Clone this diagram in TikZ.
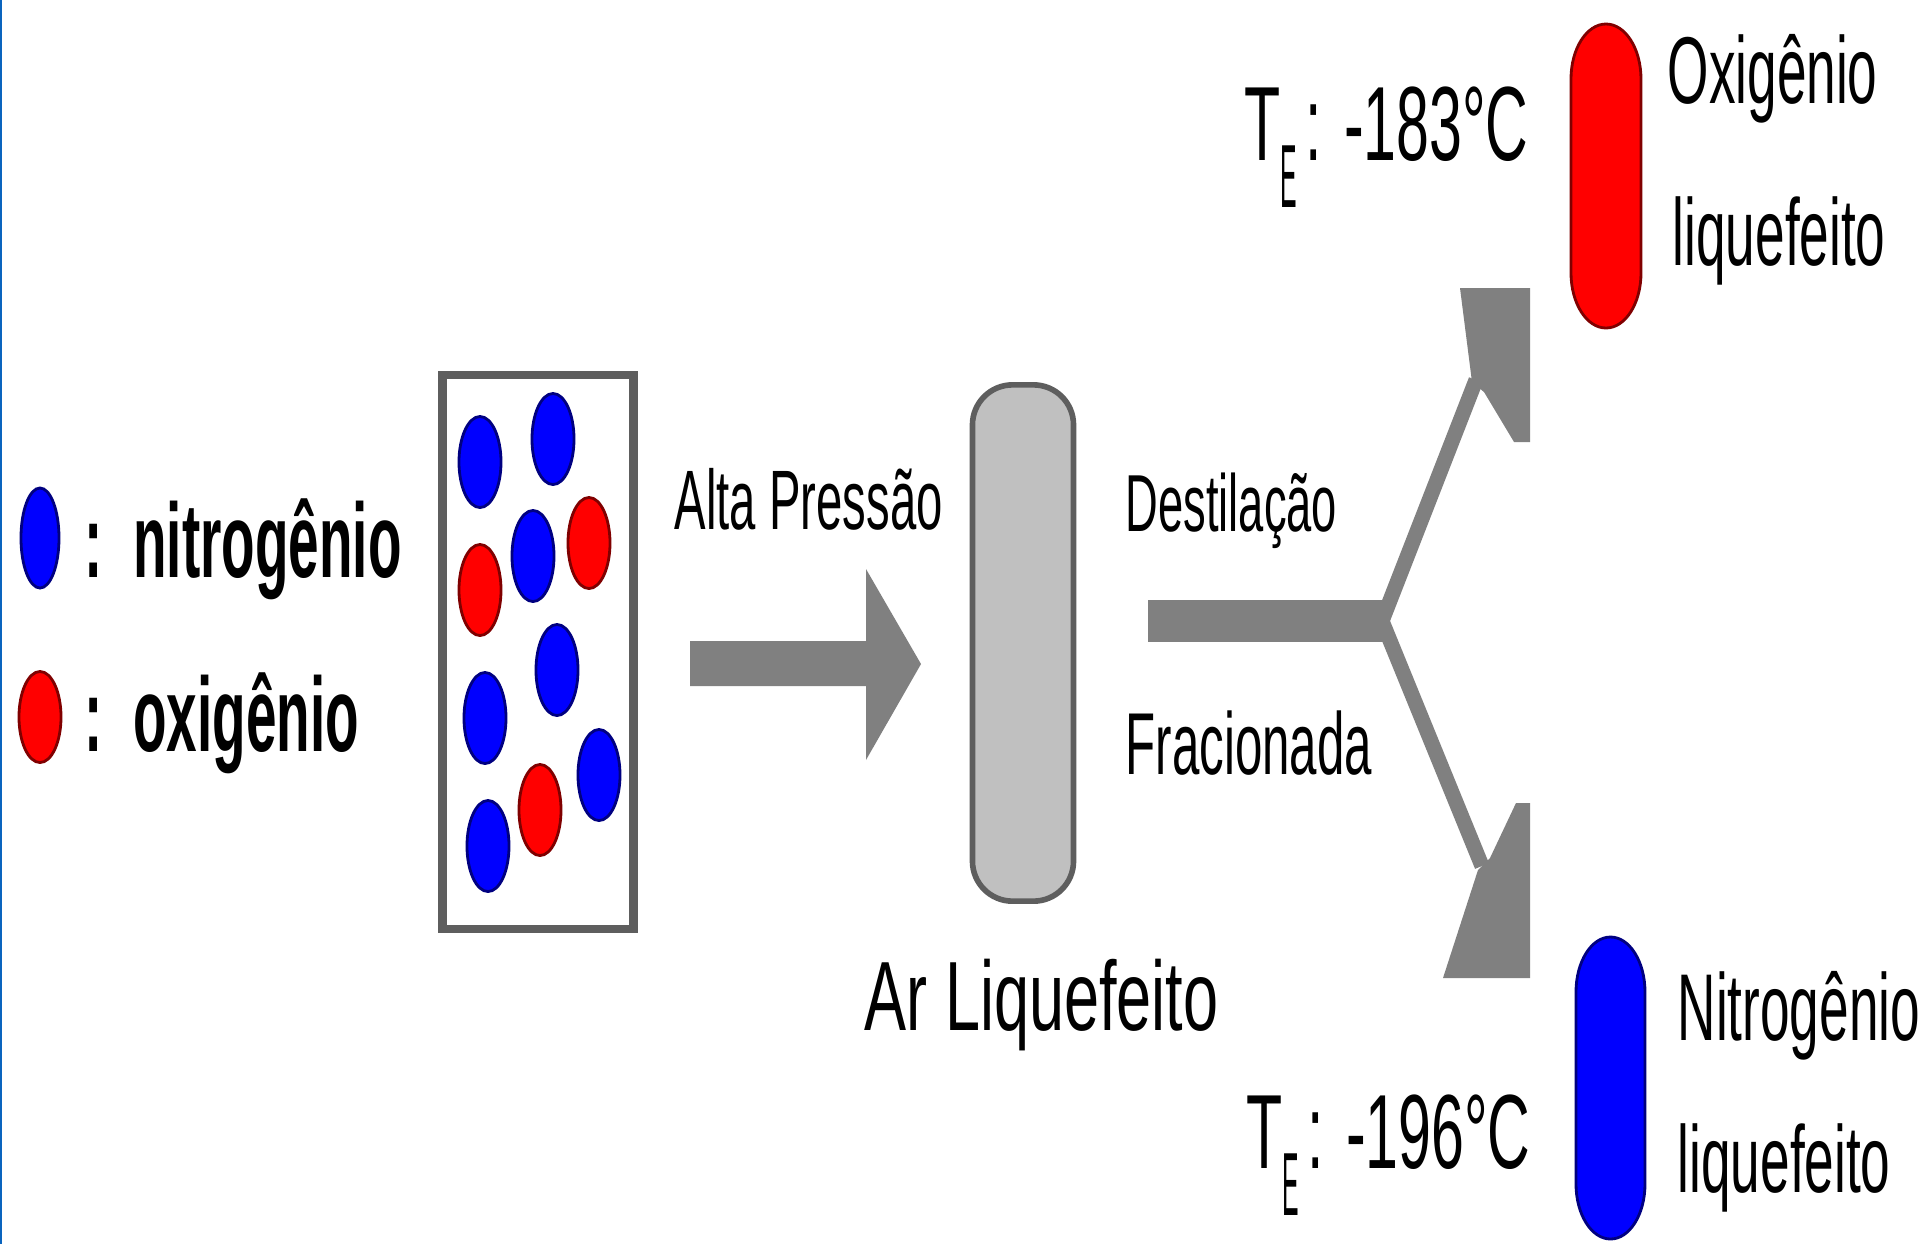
\documentclass[tikz,border=0pt]{standalone}
\usepackage{fontspec}
\setmainfont{Liberation Sans}
\newfontfamily\narrowsans[FakeStretch=0.56]{Liberation Sans}
\newfontfamily\widesans[FakeStretch=0.64]{Liberation Sans}
\newfontfamily\keysans[FakeStretch=0.52]{Liberation Sans}
\usetikzlibrary{shapes.geometric}
\definecolor{arrowgray}{HTML}{808080}
\definecolor{rimgray}{HTML}{5E5E5E}
\definecolor{liqgray}{HTML}{C0C0C0}
\definecolor{molred}{HTML}{FF0000}
\definecolor{molblue}{HTML}{0000FF}
\definecolor{edgered}{HTML}{800000}
\definecolor{edgeblue}{HTML}{000080}
\definecolor{pageblue}{HTML}{0A64BE}
\newcommand{\tsub}{T\raisebox{-0.45em}{\scalebox{0.42}[0.85]{E}}\hspace{0.08em}}
\begin{document}
\begin{tikzpicture}[x=0.01cm,y=-0.01cm,
        mol/.style={ellipse,minimum width=0.42cm,minimum height=0.91cm,inner sep=0pt,line width=0.8pt},
        nmol/.style={mol,draw=edgeblue,fill=molblue},
        omol/.style={mol,draw=edgered,fill=molred},
        lbl/.style={anchor=base west,inner sep=0pt,font=\narrowsans},
        keytext/.style={anchor=base west,inner sep=0pt,font=\keysans\bfseries\fontsize{30}{30}\selectfont},
        flow/.style={line width=0.15cm,draw=arrowgray}]
    \useasboundingbox (0,0) rectangle (1920,1244);
    \fill[white] (0,0) rectangle (1920,1244);
    \fill[pageblue] (0,0) rectangle (2.5,1244);
    % legenda
    \node[nmol,minimum width=0.38cm,minimum height=1.0cm] (keyN) at (40,538) {};
    \node[omol,minimum height=0.91cm] (keyO) at (40,717) {};
    \node[keytext] (keyNtext) at (84,577) {:\ \ nitrogênio};
    \node[keytext] (keyOtext) at (84,751) {:\ \ oxigênio};
    % ar
    \node[draw=rimgray,line width=2.4pt,minimum width=1.91cm,minimum height=5.54cm,inner sep=0pt] (air) at (538,652) {};
    \node[nmol] (n1) at (480,462) {};
    \node[nmol] (n2) at (553,439) {};
    \node[omol] (o1) at (480,590) {};
    \node[nmol] (n3) at (533,556) {};
    \node[omol] (o2) at (589,543) {};
    \node[nmol] (n4) at (557,670) {};
    \node[nmol] (n5) at (485,718) {};
    \node[nmol] (n6) at (599,775) {};
    \node[omol] (o3) at (540,810) {};
    \node[nmol] (n7) at (488,846) {};
    % compressao
    \fill[arrowgray] (690,641) -- (866,641) -- (866,569) -- (921,664) -- (866,760) -- (866,686) -- (690,686) -- cycle;
    \node[lbl] (press) at (674,529) {\fontsize{24}{24}\selectfont Alta Pressão};
    % ar liquefeito
    \node[draw=rimgray,fill=liqgray,line width=1.6pt,rounded corners=0.4cm,minimum width=1.01cm,minimum height=5.16cm,inner sep=0pt] (column) at (1023,643) {};
    \node[lbl,font=\widesans] (columntext) at (864,1030) {\fontsize{28}{28}\selectfont Ar Liquefeito};
    % destilacao
    \fill[arrowgray] (1148,600) rectangle (1386,642);
    \draw[flow] (1382,621) -- (1476,380);
    \draw[flow] (1382,621) -- (1482,866);
    \fill[arrowgray] (1460,288) -- (1530,288) -- (1530,442) -- (1514,442) -- (1484,392) -- (1472,382) -- cycle;
    \fill[arrowgray] (1443,978) -- (1530,978) -- (1530,803) -- (1516,803) -- (1490,858) -- (1478,870) -- cycle;
    \node[lbl] (dist1) at (1125,531) {\fontsize{23}{23}\selectfont Destilação};
    \node[lbl] (dist2) at (1125,774) {\fontsize{25}{25}\selectfont Fracionada};
    % produtos
    \filldraw[draw=edgered,fill=molred,line width=0.8pt] (1571,79) arc[start angle=180,end angle=360,x radius=35,y radius=55] -- (1641,273) arc[start angle=0,end angle=180,x radius=35,y radius=55] -- cycle;
    \filldraw[draw=edgeblue,fill=molblue,line width=0.8pt] (1576,992) arc[start angle=180,end angle=360,x radius=34.5,y radius=55] -- (1645,1184) arc[start angle=0,end angle=180,x radius=34.5,y radius=55] -- cycle;
    \node[lbl] (tempO) at (1244,160) {\fontsize{30}{30}\selectfont \tsub: -183°C};
    \node[lbl] (tempN) at (1246,1168) {\fontsize{30}{30}\selectfont \tsub: -196°C};
    \node[lbl] (prodO1) at (1667,103) {\fontsize{27}{27}\selectfont Oxigênio};
    \node[lbl] (prodO2) at (1672,265) {\fontsize{27}{27}\selectfont liquefeito};
    \node[lbl] (prodN1) at (1677,1040) {\fontsize{27}{27}\selectfont Nitrogênio};
    \node[lbl] (prodN2) at (1677,1192) {\fontsize{27}{27}\selectfont liquefeito};
\end{tikzpicture}
\end{document}
